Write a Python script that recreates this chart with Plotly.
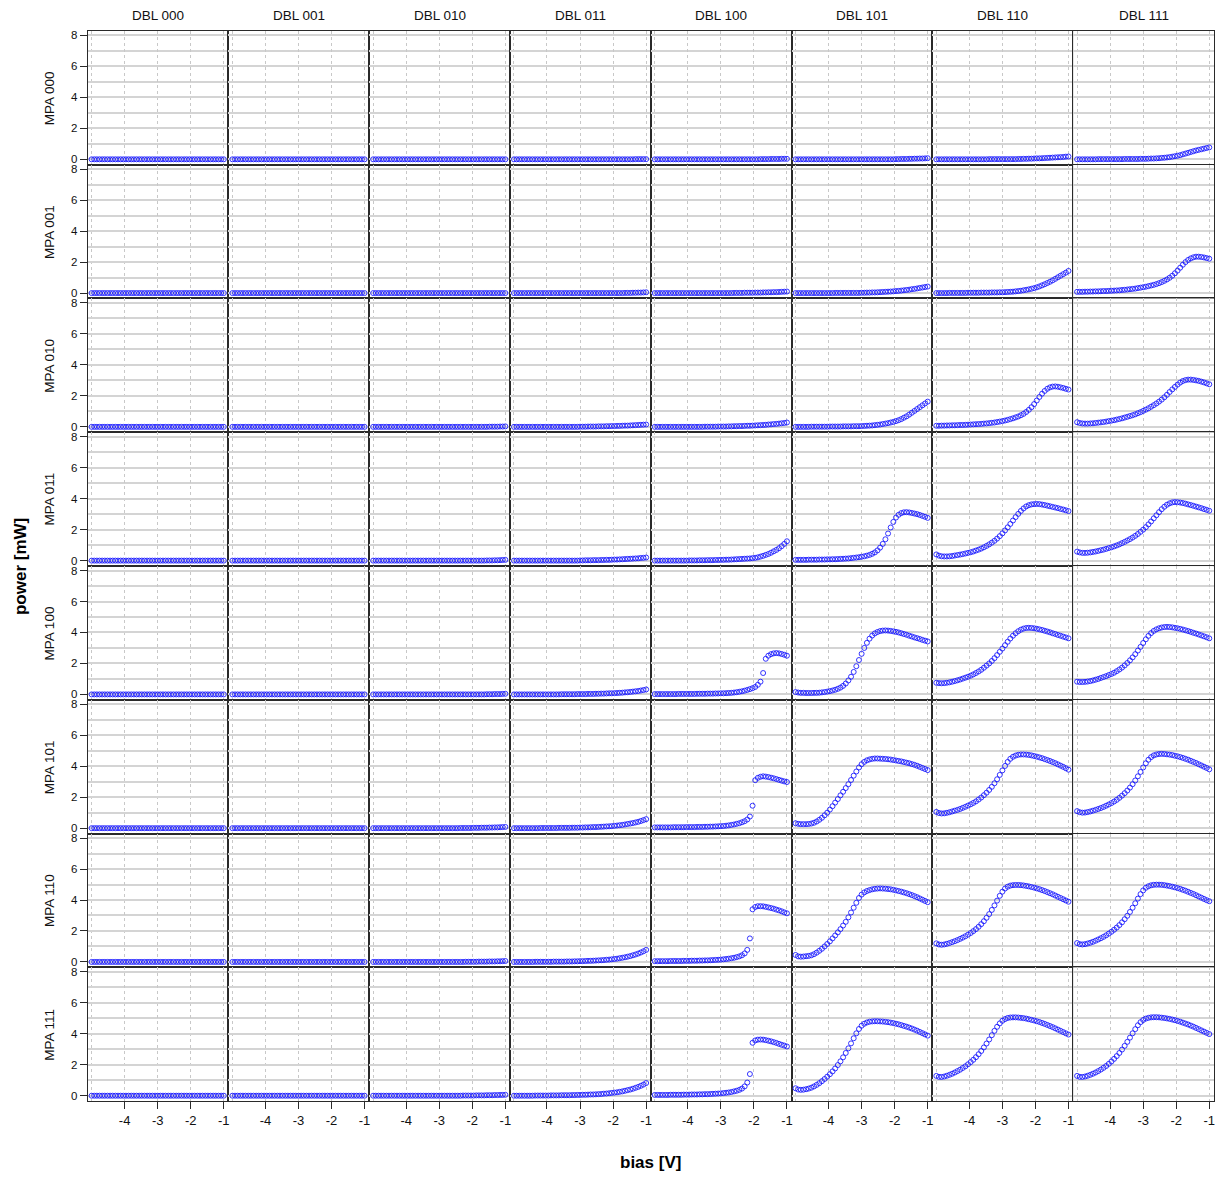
import plotly.graph_objects as go

# Bias sweep (V), shared by every panel
bias_v = [-5.00, -4.92, -4.84, -4.76, -4.68, -4.60, -4.52, -4.44, -4.36, -4.28, -4.20, -4.12, -4.04,
          -3.96, -3.88, -3.80, -3.72, -3.64, -3.56, -3.48, -3.40, -3.32, -3.24, -3.16, -3.08, -3.00,
          -2.92, -2.84, -2.76, -2.68, -2.60, -2.52, -2.44, -2.36, -2.28, -2.20, -2.12, -2.04,
          -1.96, -1.88, -1.80, -1.72, -1.64, -1.56, -1.48, -1.40, -1.32, -1.24, -1.16, -1.08, -1.00]

dbl_codes = ["000", "001", "010", "011", "100", "101", "110", "111"]
mpa_codes = ["000", "001", "010", "011", "100", "101", "110", "111"]
y_ticks = [0, 2, 4, 6, 8]
y_minor = [1, 3, 5, 7]
x_ticks = [-4, -3, -2, -1]
x_tick_text = ["-4", "-3", "-2", "-1"]
x_minor = [-5]

# Output power (mW) per MPA setting; each entry is one DBL setting (000 ... 111)
power_mpa000 = [
    [0, 0, 0, 0, 0, 0, 0, 0, 0, 0, 0, 0, 0,
     0, 0, 0, 0, 0, 0, 0, 0, 0, 0, 0, 0, 0,
     0, 0, 0, 0, 0, 0, 0, 0, 0, 0, 0, 0,
     0, 0, 0, 0, 0, 0, 0, 0, 0, 0, 0, 0, 0],
    [0, 0, 0, 0, 0, 0, 0, 0, 0, 0, 0, 0, 0,
     0, 0, 0, 0, 0, 0, 0, 0, 0, 0, 0, 0, 0,
     0, 0, 0, 0, 0, 0, 0, 0, 0, 0, 0, 0,
     0, 0, 0, 0, 0, 0, 0, 0, 0, 0, 0, 0, 0],
    [0, 0, 0, 0, 0, 0, 0, 0, 0, 0, 0, 0, 0,
     0, 0, 0, 0, 0, 0, 0, 0, 0, 0, 0, 0, 0,
     0, 0, 0, 0, 0, 0, 0, 0, 0, 0, 0, 0,
     0, 0, 0, 0, 0, 0, 0, 0, 0, 0, 0, 0, 0],
    [0, 0, 0, 0, 0, 0, 0, 0, 0, 0, 0, 0, 0,
     0, 0, 0, 0, 0, 0, 0, 0, 0, 0, 0, 0, 0,
     0, 0, 0, 0, 0, 0, 0, 0, 0, 0, 0, 0,
     0, 0, 0, 0, 0, 0, 0, 0, 0.01, 0.01, 0.01, 0.01, 0.01],
    [0, 0, 0, 0, 0, 0, 0, 0, 0, 0, 0, 0, 0,
     0, 0, 0, 0, 0, 0, 0, 0, 0, 0, 0, 0, 0,
     0, 0, 0, 0, 0, 0, 0, 0, 0, 0, 0, 0,
     0, 0, 0.01, 0.01, 0.01, 0.01, 0.02, 0.02, 0.02, 0.02, 0.03, 0.03, 0.03],
    [0, 0, 0, 0, 0, 0, 0, 0, 0, 0, 0, 0, 0,
     0, 0, 0, 0, 0, 0, 0, 0, 0, 0, 0, 0, 0,
     0, 0, 0, 0, 0, 0, 0, 0, 0, 0, 0, 0,
     0.01, 0.01, 0.02, 0.02, 0.02, 0.03, 0.03, 0.04, 0.04, 0.05, 0.05, 0.06, 0.07],
    [0, 0, 0, 0, 0, 0, 0, 0, 0, 0, 0, 0, 0,
     0, 0, 0, 0, 0, 0, 0, 0.01, 0.01, 0.01, 0.01, 0.01, 0.01,
     0.01, 0.01, 0.01, 0.01, 0.01, 0.02, 0.02, 0.03, 0.03, 0.04, 0.04, 0.05,
     0.06, 0.06, 0.07, 0.08, 0.09, 0.10, 0.11, 0.12, 0.13, 0.14, 0.15, 0.17, 0.18],
    [0, 0, 0, 0, 0, 0, 0, 0, 0.01, 0.01, 0.01, 0.01, 0.01,
     0.01, 0.01, 0.01, 0.01, 0.01, 0.02, 0.02, 0.02, 0.02, 0.02, 0.02, 0.03, 0.03,
     0.03, 0.04, 0.05, 0.05, 0.06, 0.07, 0.09, 0.10, 0.12, 0.14, 0.17, 0.20,
     0.23, 0.27, 0.32, 0.37, 0.42, 0.47, 0.52, 0.57, 0.61, 0.65, 0.69, 0.73, 0.77],
]

power_mpa001 = [
    [0, 0, 0, 0, 0, 0, 0, 0, 0, 0, 0, 0, 0,
     0, 0, 0, 0, 0, 0, 0, 0, 0, 0, 0, 0, 0,
     0, 0, 0, 0, 0, 0, 0, 0, 0, 0, 0, 0,
     0, 0, 0, 0, 0, 0, 0, 0, 0, 0, 0, 0, 0],
    [0, 0, 0, 0, 0, 0, 0, 0, 0, 0, 0, 0, 0,
     0, 0, 0, 0, 0, 0, 0, 0, 0, 0, 0, 0, 0,
     0, 0, 0, 0, 0, 0, 0, 0, 0, 0, 0, 0,
     0, 0, 0, 0, 0, 0, 0, 0, 0, 0, 0, 0, 0],
    [0, 0, 0, 0, 0, 0, 0, 0, 0, 0, 0, 0, 0,
     0, 0, 0, 0, 0, 0, 0, 0, 0, 0, 0, 0, 0,
     0, 0, 0, 0, 0, 0, 0, 0, 0, 0, 0, 0,
     0, 0, 0, 0, 0, 0, 0, 0, 0, 0, 0, 0, 0],
    [0, 0, 0, 0, 0, 0, 0, 0, 0, 0, 0, 0, 0,
     0, 0, 0, 0, 0, 0, 0, 0, 0, 0, 0, 0, 0,
     0, 0, 0, 0, 0, 0, 0, 0, 0, 0, 0, 0,
     0, 0, 0, 0, 0.01, 0.01, 0.01, 0.02, 0.02, 0.03, 0.03, 0.04, 0.05],
    [0, 0, 0, 0, 0, 0, 0, 0, 0, 0, 0, 0, 0,
     0, 0, 0, 0, 0, 0, 0, 0, 0, 0, 0, 0, 0,
     0, 0, 0, 0, 0.01, 0.01, 0.01, 0.01, 0.02, 0.02, 0.02, 0.02,
     0.03, 0.03, 0.03, 0.04, 0.04, 0.05, 0.05, 0.06, 0.06, 0.07, 0.08, 0.09, 0.10],
    [0, 0, 0, 0, 0, 0, 0, 0, 0, 0, 0, 0, 0,
     0, 0, 0.01, 0.01, 0.01, 0.01, 0.01, 0.01, 0.01, 0.01, 0.01, 0.01, 0.02,
     0.02, 0.03, 0.03, 0.04, 0.04, 0.05, 0.06, 0.07, 0.08, 0.09, 0.10, 0.11,
     0.13, 0.14, 0.16, 0.18, 0.20, 0.22, 0.25, 0.27, 0.30, 0.33, 0.36, 0.39, 0.42],
    [0, 0, 0, 0, 0, 0.01, 0.01, 0.01, 0.01, 0.01, 0.01, 0.01, 0.02,
     0.02, 0.02, 0.02, 0.02, 0.03, 0.03, 0.03, 0.03, 0.04, 0.04, 0.04, 0.05, 0.05,
     0.06, 0.07, 0.08, 0.09, 0.11, 0.13, 0.15, 0.18, 0.21, 0.24, 0.28, 0.32,
     0.37, 0.43, 0.50, 0.57, 0.65, 0.73, 0.82, 0.92, 1.02, 1.12, 1.22, 1.32, 1.43],
    [0.08, 0.08, 0.08, 0.09, 0.09, 0.10, 0.10, 0.11, 0.11, 0.12, 0.13, 0.13, 0.14,
     0.15, 0.16, 0.17, 0.18, 0.20, 0.21, 0.23, 0.25, 0.27, 0.29, 0.32, 0.35, 0.38,
     0.41, 0.45, 0.49, 0.53, 0.58, 0.64, 0.71, 0.79, 0.88, 0.99, 1.12, 1.28,
     1.45, 1.64, 1.83, 2.00, 2.14, 2.24, 2.31, 2.35, 2.35, 2.33, 2.30, 2.26, 2.22],
]

power_mpa010 = [
    [0, 0, 0, 0, 0, 0, 0, 0, 0, 0, 0, 0, 0,
     0, 0, 0, 0, 0, 0, 0, 0, 0, 0, 0, 0, 0,
     0, 0, 0, 0, 0, 0, 0, 0, 0, 0, 0, 0,
     0, 0, 0, 0, 0, 0, 0, 0, 0, 0, 0, 0, 0],
    [0, 0, 0, 0, 0, 0, 0, 0, 0, 0, 0, 0, 0,
     0, 0, 0, 0, 0, 0, 0, 0, 0, 0, 0, 0, 0,
     0, 0, 0, 0, 0, 0, 0, 0, 0, 0, 0, 0,
     0, 0, 0, 0, 0, 0, 0, 0, 0, 0, 0, 0, 0],
    [0, 0, 0, 0, 0, 0, 0, 0, 0, 0, 0, 0, 0,
     0, 0, 0, 0, 0, 0, 0, 0, 0, 0, 0, 0, 0,
     0, 0, 0, 0, 0, 0, 0, 0, 0, 0, 0, 0,
     0, 0, 0, 0, 0, 0, 0.01, 0.01, 0.01, 0.01, 0.02, 0.02, 0.03],
    [0, 0, 0, 0, 0, 0, 0, 0, 0, 0, 0, 0, 0,
     0, 0, 0, 0, 0, 0, 0, 0, 0, 0, 0, 0, 0.01,
     0.01, 0.01, 0.02, 0.02, 0.02, 0.02, 0.03, 0.03, 0.03, 0.04, 0.04, 0.05,
     0.05, 0.06, 0.06, 0.07, 0.08, 0.08, 0.09, 0.10, 0.11, 0.12, 0.13, 0.14, 0.15],
    [0, 0, 0, 0, 0, 0, 0, 0, 0, 0, 0, 0, 0,
     0, 0, 0, 0, 0, 0, 0.01, 0.01, 0.01, 0.01, 0.01, 0.02, 0.02,
     0.02, 0.02, 0.03, 0.03, 0.04, 0.04, 0.05, 0.05, 0.06, 0.07, 0.07, 0.08,
     0.09, 0.10, 0.11, 0.12, 0.13, 0.15, 0.16, 0.18, 0.19, 0.21, 0.23, 0.25, 0.28],
    [0, 0, 0, 0, 0, 0, 0.01, 0.01, 0.01, 0.01, 0.01, 0.01, 0.01,
     0.02, 0.02, 0.02, 0.02, 0.02, 0.03, 0.03, 0.03, 0.03, 0.04, 0.04, 0.04, 0.05,
     0.06, 0.07, 0.08, 0.09, 0.11, 0.13, 0.15, 0.18, 0.21, 0.24, 0.28, 0.32,
     0.37, 0.43, 0.50, 0.59, 0.68, 0.79, 0.91, 1.03, 1.15, 1.27, 1.39, 1.51, 1.63],
    [0.07, 0.07, 0.08, 0.08, 0.09, 0.09, 0.10, 0.10, 0.11, 0.12, 0.12, 0.13, 0.14,
     0.15, 0.16, 0.17, 0.18, 0.19, 0.21, 0.22, 0.24, 0.26, 0.28, 0.31, 0.34, 0.37,
     0.41, 0.45, 0.50, 0.55, 0.61, 0.67, 0.75, 0.84, 0.96, 1.10, 1.27, 1.47,
     1.70, 1.93, 2.14, 2.32, 2.46, 2.55, 2.60, 2.61, 2.59, 2.55, 2.51, 2.46, 2.41],
    [0.30, 0.25, 0.22, 0.21, 0.21, 0.22, 0.23, 0.25, 0.27, 0.29, 0.31, 0.34, 0.37,
     0.40, 0.43, 0.47, 0.51, 0.55, 0.60, 0.65, 0.70, 0.75, 0.81, 0.88, 0.95, 1.03,
     1.11, 1.20, 1.30, 1.40, 1.51, 1.63, 1.76, 1.91, 2.07, 2.25, 2.42, 2.58,
     2.73, 2.86, 2.96, 3.02, 3.05, 3.05, 3.03, 3.00, 2.97, 2.92, 2.87, 2.81, 2.75],
]

power_mpa011 = [
    [0, 0, 0, 0, 0, 0, 0, 0, 0, 0, 0, 0, 0,
     0, 0, 0, 0, 0, 0, 0, 0, 0, 0, 0, 0, 0,
     0, 0, 0, 0, 0, 0, 0, 0, 0, 0, 0, 0,
     0, 0, 0, 0, 0, 0, 0, 0, 0, 0, 0, 0, 0],
    [0, 0, 0, 0, 0, 0, 0, 0, 0, 0, 0, 0, 0,
     0, 0, 0, 0, 0, 0, 0, 0, 0, 0, 0, 0, 0,
     0, 0, 0, 0, 0, 0, 0, 0, 0, 0, 0, 0,
     0, 0, 0, 0, 0, 0, 0, 0, 0, 0, 0, 0, 0],
    [0, 0, 0, 0, 0, 0, 0, 0, 0, 0, 0, 0, 0,
     0, 0, 0, 0, 0, 0, 0, 0, 0, 0, 0, 0, 0,
     0, 0, 0, 0, 0, 0, 0, 0, 0, 0, 0, 0,
     0, 0, 0, 0, 0, 0.01, 0.01, 0.01, 0.02, 0.02, 0.03, 0.04, 0.05],
    [0, 0, 0, 0, 0, 0, 0, 0, 0, 0, 0, 0, 0,
     0, 0, 0, 0, 0, 0, 0, 0, 0, 0, 0, 0, 0.01,
     0.01, 0.02, 0.02, 0.02, 0.03, 0.03, 0.03, 0.04, 0.04, 0.05, 0.05, 0.06,
     0.07, 0.07, 0.08, 0.09, 0.10, 0.11, 0.12, 0.13, 0.14, 0.15, 0.17, 0.18, 0.20],
    [0, 0, 0, 0, 0, 0, 0, 0, 0, 0, 0, 0, 0,
     0.01, 0.01, 0.01, 0.01, 0.02, 0.02, 0.02, 0.03, 0.03, 0.03, 0.04, 0.04, 0.05,
     0.05, 0.06, 0.06, 0.07, 0.08, 0.09, 0.10, 0.11, 0.12, 0.13, 0.14, 0.16,
     0.18, 0.21, 0.26, 0.31, 0.37, 0.43, 0.51, 0.60, 0.69, 0.80, 0.93, 1.08, 1.25],
    [0.05, 0.05, 0.05, 0.05, 0.05, 0.06, 0.06, 0.06, 0.06, 0.07, 0.07, 0.07, 0.08,
     0.08, 0.09, 0.09, 0.10, 0.11, 0.12, 0.13, 0.14, 0.16, 0.18, 0.20, 0.22, 0.25,
     0.28, 0.32, 0.37, 0.44, 0.53, 0.66, 0.84, 1.08, 1.38, 1.75, 2.14, 2.50,
     2.78, 2.96, 3.07, 3.12, 3.13, 3.11, 3.08, 3.04, 3.00, 2.95, 2.89, 2.83, 2.76],
    [0.40, 0.32, 0.28, 0.27, 0.27, 0.28, 0.30, 0.33, 0.36, 0.39, 0.42, 0.46, 0.50,
     0.54, 0.59, 0.65, 0.71, 0.78, 0.86, 0.95, 1.05, 1.16, 1.28, 1.42, 1.58, 1.76,
     1.95, 2.15, 2.37, 2.59, 2.81, 3.02, 3.21, 3.37, 3.50, 3.58, 3.63, 3.65,
     3.66, 3.65, 3.62, 3.59, 3.55, 3.51, 3.47, 3.43, 3.39, 3.34, 3.30, 3.25, 3.20],
    [0.58, 0.53, 0.50, 0.50, 0.51, 0.53, 0.56, 0.59, 0.63, 0.67, 0.71, 0.76, 0.81,
     0.86, 0.92, 0.98, 1.05, 1.13, 1.21, 1.30, 1.39, 1.49, 1.60, 1.72, 1.86, 2.00,
     2.16, 2.34, 2.53, 2.73, 2.93, 3.13, 3.32, 3.48, 3.61, 3.70, 3.76, 3.78,
     3.77, 3.75, 3.72, 3.68, 3.63, 3.59, 3.54, 3.49, 3.44, 3.39, 3.33, 3.28, 3.22],
]

power_mpa100 = [
    [0, 0, 0, 0, 0, 0, 0, 0, 0, 0, 0, 0, 0,
     0, 0, 0, 0, 0, 0, 0, 0, 0, 0, 0, 0, 0,
     0, 0, 0, 0, 0, 0, 0, 0, 0, 0, 0, 0,
     0, 0, 0, 0, 0, 0, 0, 0, 0, 0, 0, 0, 0],
    [0, 0, 0, 0, 0, 0, 0, 0, 0, 0, 0, 0, 0,
     0, 0, 0, 0, 0, 0, 0, 0, 0, 0, 0, 0, 0,
     0, 0, 0, 0, 0, 0, 0, 0, 0, 0, 0, 0,
     0, 0, 0, 0, 0, 0, 0, 0, 0, 0, 0, 0, 0],
    [0, 0, 0, 0, 0, 0, 0, 0, 0, 0, 0, 0, 0,
     0, 0, 0, 0, 0, 0, 0, 0, 0, 0, 0, 0, 0,
     0, 0, 0, 0, 0, 0, 0, 0, 0, 0, 0, 0,
     0, 0, 0, 0, 0, 0.01, 0.01, 0.01, 0.02, 0.02, 0.02, 0.03, 0.04],
    [0, 0, 0, 0, 0, 0, 0, 0, 0, 0, 0, 0, 0,
     0, 0, 0, 0, 0, 0.01, 0.01, 0.01, 0.01, 0.01, 0.01, 0.02, 0.02,
     0.02, 0.02, 0.03, 0.03, 0.03, 0.04, 0.04, 0.05, 0.05, 0.06, 0.07, 0.07,
     0.08, 0.09, 0.10, 0.11, 0.13, 0.14, 0.16, 0.18, 0.20, 0.22, 0.25, 0.28, 0.32],
    [0.02, 0.02, 0.02, 0.02, 0.02, 0.02, 0.02, 0.02, 0.02, 0.03, 0.03, 0.03, 0.03,
     0.03, 0.03, 0.03, 0.04, 0.04, 0.04, 0.04, 0.05, 0.05, 0.05, 0.06, 0.06, 0.07,
     0.07, 0.08, 0.09, 0.10, 0.12, 0.14, 0.17, 0.20, 0.24, 0.29, 0.34, 0.40,
     0.48, 0.62, 0.82, 1.38, 2.30, 2.50, 2.60, 2.65, 2.67, 2.65, 2.61, 2.56, 2.50],
    [0.15, 0.12, 0.10, 0.10, 0.09, 0.09, 0.09, 0.10, 0.10, 0.11, 0.13, 0.15, 0.18,
     0.21, 0.25, 0.30, 0.36, 0.44, 0.55, 0.70, 0.90, 1.14, 1.45, 1.82, 2.22, 2.62,
     3.00, 3.33, 3.60, 3.80, 3.94, 4.03, 4.09, 4.12, 4.13, 4.12, 4.10, 4.07,
     4.04, 4.00, 3.95, 3.90, 3.85, 3.79, 3.74, 3.68, 3.63, 3.58, 3.52, 3.47, 3.42],
    [0.75, 0.73, 0.72, 0.73, 0.75, 0.78, 0.82, 0.86, 0.91, 0.96, 1.02, 1.08, 1.14,
     1.21, 1.29, 1.38, 1.48, 1.59, 1.72, 1.86, 2.00, 2.16, 2.34, 2.54, 2.75, 2.96,
     3.18, 3.40, 3.61, 3.79, 3.95, 4.08, 4.18, 4.25, 4.29, 4.30, 4.29, 4.27,
     4.24, 4.20, 4.16, 4.11, 4.06, 4.01, 3.95, 3.90, 3.84, 3.79, 3.73, 3.68, 3.62],
    [0.82, 0.80, 0.80, 0.81, 0.83, 0.86, 0.90, 0.95, 1.00, 1.06, 1.12, 1.18, 1.25,
     1.32, 1.40, 1.50, 1.61, 1.73, 1.87, 2.03, 2.20, 2.39, 2.60, 2.83, 3.07, 3.32,
     3.56, 3.78, 3.96, 4.10, 4.20, 4.27, 4.32, 4.35, 4.36, 4.35, 4.33, 4.30,
     4.27, 4.23, 4.19, 4.14, 4.09, 4.04, 3.98, 3.93, 3.87, 3.81, 3.75, 3.69, 3.62],
]

power_mpa101 = [
    [0, 0, 0, 0, 0, 0, 0, 0, 0, 0, 0, 0, 0,
     0, 0, 0, 0, 0, 0, 0, 0, 0, 0, 0, 0, 0,
     0, 0, 0, 0, 0, 0, 0, 0, 0, 0, 0, 0,
     0, 0, 0, 0, 0, 0, 0, 0, 0, 0, 0, 0, 0],
    [0, 0, 0, 0, 0, 0, 0, 0, 0, 0, 0, 0, 0,
     0, 0, 0, 0, 0, 0, 0, 0, 0, 0, 0, 0, 0,
     0, 0, 0, 0, 0, 0, 0, 0, 0, 0, 0, 0,
     0, 0, 0, 0, 0, 0, 0, 0, 0, 0, 0, 0, 0],
    [0, 0, 0, 0, 0, 0, 0, 0, 0, 0, 0, 0, 0,
     0, 0, 0, 0, 0, 0, 0, 0, 0, 0, 0, 0, 0,
     0, 0, 0, 0, 0, 0, 0, 0.01, 0.01, 0.01, 0.01, 0.01,
     0.02, 0.02, 0.02, 0.03, 0.03, 0.03, 0.04, 0.04, 0.05, 0.05, 0.06, 0.07, 0.08],
    [0, 0, 0, 0, 0, 0, 0, 0, 0, 0, 0.01, 0.01, 0.01,
     0.01, 0.01, 0.01, 0.01, 0.02, 0.02, 0.02, 0.02, 0.02, 0.03, 0.03, 0.03, 0.04,
     0.04, 0.05, 0.05, 0.06, 0.07, 0.07, 0.08, 0.09, 0.10, 0.11, 0.12, 0.13,
     0.15, 0.17, 0.19, 0.21, 0.24, 0.27, 0.30, 0.33, 0.37, 0.41, 0.46, 0.52, 0.58],
    [0.05, 0.05, 0.05, 0.05, 0.05, 0.05, 0.05, 0.06, 0.06, 0.06, 0.06, 0.06, 0.07,
     0.07, 0.07, 0.07, 0.08, 0.08, 0.08, 0.09, 0.09, 0.10, 0.10, 0.11, 0.12, 0.13,
     0.14, 0.16, 0.18, 0.21, 0.24, 0.28, 0.32, 0.38, 0.45, 0.56, 0.75, 1.45,
     3.10, 3.25, 3.32, 3.35, 3.33, 3.30, 3.26, 3.22, 3.17, 3.12, 3.07, 3.02, 2.98],
    [0.32, 0.28, 0.26, 0.26, 0.26, 0.27, 0.30, 0.35, 0.43, 0.54, 0.67, 0.83, 1.00,
     1.20, 1.42, 1.65, 1.88, 2.12, 2.35, 2.59, 2.84, 3.11, 3.39, 3.66, 3.92, 4.13,
     4.28, 4.38, 4.44, 4.48, 4.50, 4.50, 4.49, 4.48, 4.47, 4.45, 4.43, 4.40,
     4.37, 4.34, 4.31, 4.27, 4.23, 4.19, 4.14, 4.09, 4.03, 3.96, 3.89, 3.82, 3.75],
    [1.05, 0.98, 0.95, 0.96, 0.99, 1.03, 1.08, 1.13, 1.18, 1.24, 1.31, 1.38, 1.46,
     1.54, 1.63, 1.73, 1.85, 1.98, 2.13, 2.29, 2.47, 2.67, 2.90, 3.16, 3.44, 3.73,
     4.02, 4.28, 4.48, 4.61, 4.69, 4.74, 4.76, 4.76, 4.75, 4.73, 4.70, 4.66,
     4.62, 4.57, 4.52, 4.46, 4.40, 4.34, 4.27, 4.20, 4.12, 4.04, 3.96, 3.87, 3.78],
    [1.10, 1.03, 1.00, 1.01, 1.04, 1.08, 1.13, 1.18, 1.24, 1.30, 1.37, 1.45, 1.53,
     1.62, 1.72, 1.83, 1.96, 2.10, 2.26, 2.43, 2.62, 2.84, 3.08, 3.35, 3.63, 3.92,
     4.19, 4.42, 4.59, 4.70, 4.76, 4.79, 4.80, 4.79, 4.77, 4.75, 4.72, 4.68,
     4.64, 4.59, 4.54, 4.48, 4.42, 4.35, 4.28, 4.21, 4.13, 4.05, 3.97, 3.89, 3.80],
]

power_mpa110 = [
    [0, 0, 0, 0, 0, 0, 0, 0, 0, 0, 0, 0, 0,
     0, 0, 0, 0, 0, 0, 0, 0, 0, 0, 0, 0, 0,
     0, 0, 0, 0, 0, 0, 0, 0, 0, 0, 0, 0,
     0, 0, 0, 0, 0, 0, 0, 0, 0, 0, 0, 0, 0],
    [0, 0, 0, 0, 0, 0, 0, 0, 0, 0, 0, 0, 0,
     0, 0, 0, 0, 0, 0, 0, 0, 0, 0, 0, 0, 0,
     0, 0, 0, 0, 0, 0, 0, 0, 0, 0, 0, 0,
     0, 0, 0, 0, 0, 0, 0, 0, 0, 0, 0, 0, 0],
    [0, 0, 0, 0, 0, 0, 0, 0, 0, 0, 0, 0, 0,
     0, 0, 0, 0, 0, 0, 0, 0, 0, 0, 0, 0, 0,
     0, 0, 0, 0, 0, 0, 0, 0, 0, 0.01, 0.01, 0.01,
     0.01, 0.01, 0.02, 0.02, 0.02, 0.02, 0.03, 0.03, 0.03, 0.04, 0.04, 0.05, 0.06],
    [0, 0, 0, 0, 0, 0, 0, 0, 0.01, 0.01, 0.01, 0.01, 0.01,
     0.01, 0.01, 0.02, 0.02, 0.02, 0.02, 0.02, 0.03, 0.03, 0.03, 0.04, 0.04, 0.05,
     0.05, 0.06, 0.07, 0.07, 0.08, 0.09, 0.10, 0.11, 0.12, 0.14, 0.15, 0.17,
     0.19, 0.21, 0.24, 0.27, 0.30, 0.34, 0.38, 0.43, 0.48, 0.54, 0.61, 0.69, 0.78],
    [0.05, 0.05, 0.05, 0.05, 0.05, 0.05, 0.06, 0.06, 0.06, 0.06, 0.06, 0.07, 0.07,
     0.07, 0.08, 0.08, 0.08, 0.09, 0.09, 0.10, 0.10, 0.11, 0.12, 0.13, 0.14, 0.15,
     0.17, 0.19, 0.21, 0.24, 0.27, 0.31, 0.36, 0.43, 0.55, 0.78, 1.52, 3.40,
     3.55, 3.60, 3.60, 3.59, 3.56, 3.52, 3.48, 3.44, 3.38, 3.33, 3.27, 3.20, 3.14],
    [0.45, 0.36, 0.34, 0.35, 0.37, 0.39, 0.43, 0.50, 0.60, 0.72, 0.85, 1.00, 1.16,
     1.33, 1.52, 1.71, 1.91, 2.12, 2.35, 2.59, 2.88, 3.19, 3.50, 3.82, 4.13, 4.35,
     4.49, 4.58, 4.64, 4.69, 4.72, 4.74, 4.75, 4.74, 4.73, 4.71, 4.69, 4.66,
     4.62, 4.58, 4.54, 4.49, 4.44, 4.38, 4.32, 4.25, 4.18, 4.10, 4.02, 3.94, 3.86],
    [1.20, 1.13, 1.11, 1.13, 1.17, 1.22, 1.28, 1.34, 1.41, 1.49, 1.57, 1.66, 1.76,
     1.87, 1.99, 2.12, 2.27, 2.44, 2.63, 2.85, 3.09, 3.36, 3.65, 3.96, 4.27, 4.54,
     4.74, 4.86, 4.93, 4.96, 4.97, 4.97, 4.96, 4.94, 4.91, 4.88, 4.84, 4.80,
     4.75, 4.70, 4.64, 4.58, 4.51, 4.44, 4.37, 4.29, 4.21, 4.13, 4.05, 3.97, 3.89],
    [1.22, 1.15, 1.13, 1.15, 1.19, 1.24, 1.30, 1.37, 1.45, 1.53, 1.62, 1.72, 1.83,
     1.95, 2.08, 2.22, 2.38, 2.56, 2.76, 2.98, 3.23, 3.50, 3.79, 4.09, 4.38, 4.62,
     4.79, 4.89, 4.95, 4.98, 4.99, 4.99, 4.98, 4.96, 4.93, 4.90, 4.86, 4.82,
     4.77, 4.72, 4.66, 4.60, 4.53, 4.46, 4.39, 4.31, 4.23, 4.15, 4.07, 3.99, 3.92],
]

power_mpa111 = [
    [0, 0, 0, 0, 0, 0, 0, 0, 0, 0, 0, 0, 0,
     0, 0, 0, 0, 0, 0, 0, 0, 0, 0, 0, 0, 0,
     0, 0, 0, 0, 0, 0, 0, 0, 0, 0, 0, 0,
     0, 0, 0, 0, 0, 0, 0, 0, 0, 0, 0, 0, 0],
    [0, 0, 0, 0, 0, 0, 0, 0, 0, 0, 0, 0, 0,
     0, 0, 0, 0, 0, 0, 0, 0, 0, 0, 0, 0, 0,
     0, 0, 0, 0, 0, 0, 0, 0, 0, 0, 0, 0,
     0, 0, 0, 0, 0, 0, 0, 0, 0, 0, 0, 0, 0],
    [0, 0, 0, 0, 0, 0, 0, 0, 0, 0, 0, 0, 0,
     0, 0, 0, 0, 0, 0, 0, 0, 0, 0, 0, 0, 0,
     0, 0, 0, 0, 0, 0, 0, 0, 0.01, 0.01, 0.01, 0.01,
     0.01, 0.02, 0.02, 0.02, 0.02, 0.03, 0.03, 0.03, 0.04, 0.04, 0.05, 0.05, 0.06],
    [0, 0, 0, 0, 0, 0, 0, 0, 0.01, 0.01, 0.01, 0.01, 0.01,
     0.01, 0.02, 0.02, 0.02, 0.02, 0.03, 0.03, 0.03, 0.03, 0.04, 0.04, 0.05, 0.05,
     0.06, 0.06, 0.07, 0.08, 0.08, 0.09, 0.10, 0.11, 0.13, 0.14, 0.16, 0.18,
     0.20, 0.22, 0.25, 0.28, 0.32, 0.36, 0.40, 0.45, 0.51, 0.57, 0.64, 0.72, 0.82],
    [0.05, 0.05, 0.05, 0.05, 0.05, 0.05, 0.06, 0.06, 0.06, 0.06, 0.06, 0.07, 0.07,
     0.07, 0.08, 0.08, 0.08, 0.09, 0.09, 0.10, 0.10, 0.11, 0.12, 0.13, 0.14, 0.15,
     0.17, 0.19, 0.21, 0.24, 0.28, 0.32, 0.38, 0.46, 0.60, 0.85, 1.40, 3.42,
     3.57, 3.62, 3.63, 3.62, 3.59, 3.55, 3.51, 3.46, 3.41, 3.35, 3.29, 3.24, 3.18],
    [0.48, 0.40, 0.38, 0.39, 0.42, 0.46, 0.52, 0.60, 0.70, 0.81, 0.94, 1.08, 1.23,
     1.39, 1.57, 1.76, 1.98, 2.22, 2.48, 2.76, 3.06, 3.38, 3.71, 4.03, 4.31, 4.52,
     4.65, 4.73, 4.78, 4.80, 4.81, 4.81, 4.80, 4.79, 4.77, 4.75, 4.72, 4.69,
     4.65, 4.61, 4.56, 4.51, 4.46, 4.40, 4.34, 4.27, 4.20, 4.12, 4.04, 3.96, 3.88],
    [1.28, 1.22, 1.21, 1.24, 1.29, 1.35, 1.42, 1.50, 1.59, 1.68, 1.79, 1.90, 2.03,
     2.17, 2.32, 2.49, 2.68, 2.89, 3.12, 3.37, 3.63, 3.91, 4.19, 4.45, 4.67, 4.84,
     4.95, 5.02, 5.05, 5.06, 5.06, 5.05, 5.03, 5.01, 4.98, 4.94, 4.90, 4.86,
     4.81, 4.76, 4.70, 4.64, 4.57, 4.50, 4.43, 4.35, 4.27, 4.19, 4.11, 4.03, 3.95],
    [1.28, 1.22, 1.21, 1.24, 1.29, 1.35, 1.42, 1.50, 1.59, 1.69, 1.80, 1.92, 2.06,
     2.21, 2.38, 2.56, 2.76, 2.98, 3.22, 3.48, 3.75, 4.03, 4.30, 4.55, 4.75, 4.89,
     4.98, 5.03, 5.06, 5.07, 5.07, 5.06, 5.04, 5.02, 4.99, 4.96, 4.92, 4.88,
     4.83, 4.78, 4.72, 4.66, 4.60, 4.53, 4.46, 4.38, 4.30, 4.22, 4.14, 4.06, 3.98],
]

power_by_mpa = [power_mpa000, power_mpa001, power_mpa010, power_mpa011,
                power_mpa100, power_mpa101, power_mpa110, power_mpa111]

# ---- page geometry (pixels) ----
W, H = 1218, 1180
LEFT0, COL_W = 87.7, 140.9
TOP0, ROW_H = 30.0, 134.0
N = 8

FONT = "Liberation Sans, Arial, Helvetica, sans-serif"
INK = "#111111"
FRAME = "#2a2a2a"
H_GRID = "#d4d4d4"
V_GRID = "#c8c8c8"
POINT = "rgba(20,20,255,0.85)"

fig = go.Figure()
layout = {}

for r in range(N):
    for c in range(N):
        k = r * N + c + 1
        xname = "xaxis" if k == 1 else f"xaxis{k}"
        yname = "yaxis" if k == 1 else f"yaxis{k}"
        xref = "x" if k == 1 else f"x{k}"
        yref = "y" if k == 1 else f"y{k}"
        ys = power_by_mpa[r][c]
        assert len(ys) == len(bias_v), (r, c, len(ys))

        fig.add_trace(go.Scatter(
            x=bias_v, y=ys, mode="markers", xaxis=xref, yaxis=yref,
            marker=dict(symbol="circle-open", size=5, color=POINT, line=dict(width=1)),
            showlegend=False,
            hovertemplate=f"MPA {mpa_codes[r]} / DBL {dbl_codes[c]}<br>bias %{{x}} V<br>%{{y}} mW<extra></extra>",
        ))

        px_l = LEFT0 + COL_W * c
        px_r = px_l + COL_W
        px_t = TOP0 + ROW_H * r
        px_b = px_t + ROW_H

        bottom = r == N - 1
        left = c == 0
        layout[xname] = dict(
            domain=[px_l / W, px_r / W], anchor=yref,
            range=[-5.12, -0.86], fixedrange=True,
            showline=True, mirror=True, linecolor=FRAME, linewidth=1,
            tickmode="array", tickvals=x_ticks, ticktext=x_tick_text,
            ticks="outside" if bottom else "", ticklen=7, tickwidth=1.2, tickcolor=FRAME,
            showticklabels=bottom,
            tickfont=dict(family=FONT, size=13, color=INK),
            showgrid=True, gridcolor=V_GRID, gridwidth=1, griddash="dot",
            minor=dict(tickmode="array", tickvals=x_minor, showgrid=True,
                       gridcolor=V_GRID, gridwidth=1, griddash="dot", ticks=""),
            zeroline=False,
        )
        layout[yname] = dict(
            domain=[1 - px_b / H, 1 - px_t / H], anchor=xref,
            range=[-0.35, 8.29], fixedrange=True,
            showline=True, mirror=True, linecolor=FRAME, linewidth=1,
            tickmode="array", tickvals=y_ticks,
            ticks="outside" if left else "", ticklen=7, tickwidth=1.2, tickcolor=FRAME,
            showticklabels=left,
            tickfont=dict(family=FONT, size=11.5, color=INK),
            showgrid=True, gridcolor=H_GRID, gridwidth=1.8,
            minor=dict(tickmode="array", tickvals=y_minor, showgrid=True,
                       gridcolor=H_GRID, gridwidth=1.8, ticks=""),
            zeroline=False,
        )

annotations = []
for c in range(N):
    annotations.append(dict(
        text=f"DBL {dbl_codes[c]}", xref="paper", yref="paper",
        x=(LEFT0 + COL_W * (c + 0.5)) / W, y=1 - 15 / H,
        xanchor="center", yanchor="middle", showarrow=False,
        font=dict(family=FONT, size=13.5, color=INK),
    ))
for r in range(N):
    annotations.append(dict(
        text=f"MPA {mpa_codes[r]}", xref="paper", yref="paper",
        x=49.5 / W, y=1 - (TOP0 + ROW_H * (r + 0.5)) / H,
        xanchor="center", yanchor="middle", showarrow=False, textangle=-90,
        font=dict(family=FONT, size=13.5, color=INK),
    ))
annotations.append(dict(
    text="<b>power [mW]</b>", xref="paper", yref="paper",
    x=20 / W, y=1 - 566 / H, xanchor="center", yanchor="middle",
    showarrow=False, textangle=-90, font=dict(family=FONT, size=17, color="#000000"),
))
annotations.append(dict(
    text="<b>bias [V]</b>", xref="paper", yref="paper",
    x=651 / W, y=1 - 1163 / H, xanchor="center", yanchor="middle",
    showarrow=False, font=dict(family=FONT, size=17, color="#000000"),
))

fig.update_layout(
    width=W, height=H,
    margin=dict(l=0, r=0, t=0, b=0),
    paper_bgcolor="white", plot_bgcolor="white",
    annotations=annotations,
    **layout,
)

fig.write_html("out.html")
